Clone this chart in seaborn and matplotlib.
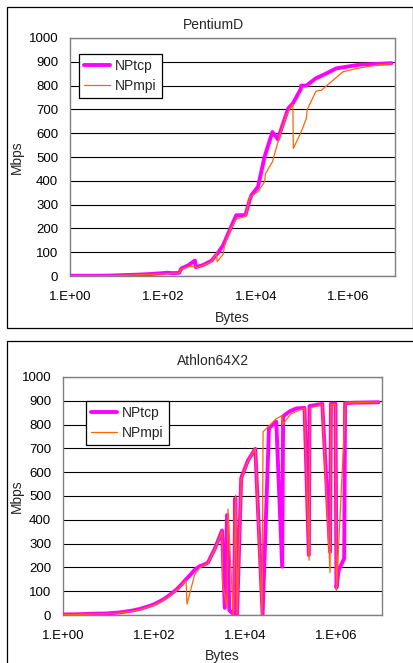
import matplotlib
matplotlib.use("Agg")
import matplotlib.pyplot as plt
from matplotlib.patches import Rectangle
import seaborn as sns

# ---------------- data ----------------
titles = ["PentiumD", "Athlon64X2"]
series_names = ["NPtcp", "NPmpi"]
x_tick_values = [1, 100, 10000, 1000000]
x_tick_labels = ["1.E+00", "1.E+02", "1.E+04", "1.E+06"]
y_ticks = [0, 100, 200, 300, 400, 500, 600, 700, 800, 900, 1000]

# PentiumD
pd_tcp_bytes = [1, 2, 4, 8, 16, 32, 50, 71, 100, 126, 158, 224, 251, 355, 490, 513,
                708, 871, 1122, 1549, 1995, 2754, 3802, 6026, 7413, 8128, 11220,
                15488, 22909, 30200, 33113, 50119, 63096, 93325, 95499, 123027,
                199526, 331131, 537032, 891251, 1737801, 3162278, 8388608]
pd_tcp_mbps = [1, 1, 1, 2, 4, 6, 8, 10, 12, 14, 12, 13, 32, 45, 65, 37,
               45, 53, 65, 98, 130, 193, 255, 256, 320, 340, 375,
               500, 605, 574, 600, 704, 725, 785, 800, 800,
               831, 851, 872, 879, 888, 890, 894]
pd_mpi_bytes = [1, 2, 4, 8, 16, 32, 50, 71, 100, 126, 158, 224, 251, 355, 490, 513,
                708, 871, 1122, 1413, 1479, 1995, 2138, 2754, 3802, 6026, 7413,
                8128, 11220, 15488, 16218, 22909, 31623, 45709, 63096, 64565,
                95499, 123027, 128825, 199526, 257040, 389045, 758578, 1479108,
                3981072, 8388608]
pd_mpi_mbps = [1, 1, 1, 2, 3, 5, 6, 8, 9, 10, 11, 12, 30, 40, 40, 35,
               42, 50, 62, 95, 60, 92, 130, 190, 240, 250, 330,
               335, 355, 395, 430, 480, 578, 676, 722, 536,
               606, 662, 700, 777, 780, 810, 858, 872,
               886, 892]

# Athlon64X2
ath_tcp_bytes = [1, 2, 3, 4, 6, 8, 10, 13, 16, 20, 25, 32, 40, 50, 63, 79, 100,
                 126, 158, 200, 251, 316, 398, 501, 631, 794, 1000, 1259, 1514,
                 2138, 3090, 3548, 3981, 4467, 5623, 6026, 6607, 8128, 11482,
                 16596, 23988, 33113, 47863, 64565, 67608, 93325, 131826, 199526,
                 248313, 257040, 489779, 724436, 758578, 954993, 1000000, 1122018,
                 1479108, 1548817, 2511886, 5011872, 8388608]
ath_tcp_mbps = [2, 3, 4, 5, 6, 6, 7, 9, 10, 12, 15, 18, 22, 26, 32, 38, 45,
                55, 65, 78, 93, 108, 128, 150, 170, 192, 205, 212, 220,
                278, 355, 30, 420, 20, 2, 490, 0, 575, 650,
                698, 0, 785, 812, 203, 835, 855, 868, 870,
                252, 878, 887, 265, 888, 888, 115, 188,
                238, 890, 892, 893, 894]
ath_mpi_bytes = [1, 2, 3, 4, 6, 8, 10, 13, 16, 20, 25, 32, 40, 50, 63, 79, 100,
                 126, 158, 200, 251, 316, 398, 501, 525, 776, 1000, 1259, 1514,
                 2138, 3090, 3162, 3981, 4169, 5248, 5495, 6166, 6607, 8128,
                 11482, 16596, 23442, 24547, 35481, 47863, 64565, 66069, 100000,
                 158489, 199526, 251189, 263027, 398107, 489779, 724436, 758578,
                 954993, 1000000, 1584893, 3162278, 8388608]
ath_mpi_mbps = [1, 2, 3, 4, 5, 5, 6, 7, 8, 10, 12, 15, 19, 23, 29, 35, 42,
                51, 61, 74, 88, 104, 124, 146, 46, 170, 198, 210, 218,
                275, 352, 135, 30, 445, 60, 0, 504, 5, 570,
                648, 698, 0, 770, 800, 825, 838, 800, 845,
                862, 868, 230, 870, 880, 885, 178, 885,
                885, 102, 890, 893, 895]

# ---------------- style ----------------
sns.set_style("white")
plt.rcParams["font.family"] = ["Liberation Sans", "DejaVu Sans"]

W, H = 414, 663
fig = plt.figure(figsize=(W / 100, H / 100), dpi=100)

tcp_color = "#FF00FF"
mpi_color = "#FF6600"
grey = "#808080"

panels = [
    dict(title=titles[0], tcp=(pd_tcp_bytes, pd_tcp_mbps), mpi=(pd_mpi_bytes, pd_mpi_mbps),
         ax_px=(70, 38, 395, 276), frame_px=(7, 7, 413, 328), title_y=25, ylab_x=17,
         xlab_y=318, leg_px=(79, 54)),
    dict(title=titles[1], tcp=(ath_tcp_bytes, ath_tcp_mbps), mpi=(ath_mpi_bytes, ath_mpi_mbps),
         ax_px=(63, 377, 382, 615), frame_px=(7, 341, 430, 700), title_y=361, ylab_x=17,
         xlab_y=656, leg_px=(86, 401)),
]

for p in panels:
    l, t, r, b = p["ax_px"]
    ax = fig.add_axes([l / W, 1 - b / H, (r - l) / W, (b - t) / H])

    sns.lineplot(x=p["tcp"][0], y=p["tcp"][1], ax=ax, color=tcp_color, linewidth=2.8,
                 sort=False, estimator=None, label=series_names[0], zorder=3)
    sns.lineplot(x=p["mpi"][0], y=p["mpi"][1], ax=ax, color=mpi_color, linewidth=0.9,
                 sort=False, estimator=None, label=series_names[1], zorder=4)

    ax.set_xscale("log")
    ax.set_xlim(1, 1e7)
    ax.set_ylim(0, 1000)
    ax.set_xticks(x_tick_values)
    ax.set_xticklabels(x_tick_labels)
    ax.minorticks_off()
    ax.set_yticks(y_ticks)
    ax.yaxis.grid(True, color="black", linewidth=0.8)
    ax.xaxis.grid(False)
    ax.set_axisbelow(True)
    ax.tick_params(axis="x", direction="out", length=3, width=0.8, color=grey,
                   pad=8, labelsize=9.5, labelcolor="black")
    ax.tick_params(axis="y", length=0, pad=8.5, labelsize=9.5, labelcolor="black")
    for s in ax.spines.values():
        s.set_color(grey)
        s.set_linewidth(1.0)
        s.set_visible(True)

    ax.set_ylabel("Mbps", fontsize=10, va="center")
    ax.yaxis.set_label_coords((p["ylab_x"] - l) / (r - l), 0.5)
    ax.set_xlabel("Bytes", fontsize=10, va="center")
    ax.xaxis.set_label_coords(0.5, (b - p["xlab_y"]) / (b - t))

    lx, ly = p["leg_px"]
    leg = ax.legend(loc="upper left", bbox_to_anchor=((lx - l) / (r - l), (b - ly) / (b - t)),
                    borderaxespad=0, fancybox=False, frameon=True, edgecolor="black",
                    framealpha=1, fontsize=10, handlelength=1.9, handletextpad=0.35,
                    borderpad=0.35, labelspacing=0.45)
    leg.get_frame().set_linewidth(0.9)
    leg.set_zorder(10)

    fx0, fy0, fx1, fy1 = p["frame_px"]
    fig.patches.append(Rectangle((fx0 / W, 1 - fy1 / H), (fx1 - fx0) / W, (fy1 - fy0) / H,
                                 transform=fig.transFigure, fill=False, edgecolor="black",
                                 linewidth=0.9))
    fig.text(213 / W, 1 - p["title_y"] / H, p["title"], ha="center", va="center", fontsize=10)

fig.savefig("out.png", dpi=100)
